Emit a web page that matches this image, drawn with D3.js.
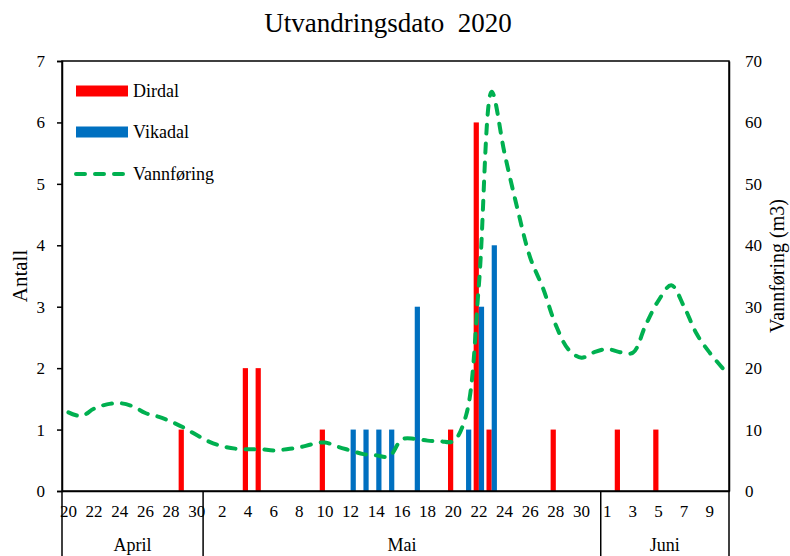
<!DOCTYPE html>
<html>
<head>
<meta charset="utf-8">
<script src="https://cdn.jsdelivr.net/npm/d3@7"></script>
<style>
  body { margin: 0; background: #fff; }
  svg { display: block; font-family: "Liberation Serif", "Times New Roman", serif; }
</style>
</head>
<body>
<svg id="chart" width="790" height="556"></svg>
<script>
// ---------- DATA ----------
const months = [
  { name: "April", days: [20,21,22,23,24,25,26,27,28,29,30] },
  { name: "Mai",   days: d3.range(1, 32) },
  { name: "Juni",  days: [1,2,3,4,5,6,7,8,9,10] }
];
// categories: one per day, Apr 20 .. Jun 10
const categories = months.flatMap(m => m.days.map(d => m.name + "-" + d));
const dayLabels  = months.flatMap(m => m.days);

// Antall (left axis)
const dirdal = [
  0,0,0,0,0,0,0,0,0,1,0,            // Apr 20-30
  0,0,0,2,2,0,0,0,0,1,0,0,0,0,0,0,0,0,0,1,0,6,1,0,0,0,0,1,0,0,0, // Mai 1-31
  0,1,0,0,1,0,0,0,0,0               // Jun 1-10
];
const vikadal = [
  0,0,0,0,0,0,0,0,0,0,0,
  0,0,0,0,0,0,0,0,0,0,0,1,1,1,1,0,3,0,0,0,1,3,4,0,0,0,0,0,0,0,0,
  0,0,0,0,0,0,0,0,0,0
];
// Vannføring (m3) (right axis)
const vannforing = [
  12.8,12.2,13.4,14.1,14.3,13.8,12.7,12.1,11.3,10.3,9.1,
  8.0,7.3,6.9,6.8,6.8,6.6,6.8,7.1,7.6,7.9,7.2,6.6,6.0,5.8,5.6,8.4,8.5,8.2,8.1,8.1,12.3,33.5,65,55,46,38,33,27,23,21.7,22.6,
  23.1,22.6,22.5,27,31,33.5,30,25.5,22.5,20
];
const leftTicks  = [0,1,2,3,4,5,6,7];
const rightTicks = [0,10,20,30,40,50,60,70];
const seriesNames = ["Dirdal", "Vikadal", "Vannføring"];
const colors = { Dirdal: "#FF0000", Vikadal: "#0070C0", "Vannføring": "#00B050" };

// ---------- LAYOUT ----------
const svg = d3.select("#chart");
const L = 62, R = 729, T = 61, B = 491, H = 556;

const x = d3.scaleBand().domain(categories).range([L, R]).paddingInner(0).paddingOuter(0);
const bw = x.bandwidth();
const x1 = d3.scaleBand().domain(["Dirdal", "Vikadal"]).range([1.2, bw - 1.2]).padding(0);
const yL = d3.scaleLinear().domain([0, 7]).range([B, T]);
const yR = d3.scaleLinear().domain([0, 70]).range([B, T]);

// title
svg.append("text").attr("x", 388).attr("y", 32).attr("text-anchor", "middle")
  .attr("font-size", 27).attr("fill", "#000").style("white-space", "pre")
  .text("Utvandringsdato  2020");

// bars
const barData = [];
categories.forEach((c, i) => {
  if (dirdal[i] > 0) barData.push({ c, s: "Dirdal", v: dirdal[i] });
  if (vikadal[i] > 0) barData.push({ c, s: "Vikadal", v: vikadal[i] });
});
svg.append("g").selectAll("rect").data(barData).join("rect")
  .attr("x", d => x(d.c) + x1(d.s))
  .attr("width", x1.bandwidth())
  .attr("y", d => yL(d.v))
  .attr("height", d => yL(0) - yL(d.v))
  .attr("fill", d => colors[d.s]);

// flow line
const line = d3.line()
  .x((d, i) => x(categories[i]) + bw / 2)
  .y(d => yR(d))
  .curve(d3.curveCatmullRom.alpha(0.5));
svg.append("path").datum(vannforing)
  .attr("d", line)
  .attr("fill", "none")
  .attr("stroke", colors["Vannføring"])
  .attr("stroke-width", 4)
  .attr("stroke-dasharray", "9,10")
  .attr("stroke-linecap", "round");

// plot frame
svg.append("rect").attr("x", L).attr("y", T).attr("width", R - L).attr("height", B - T)
  .attr("fill", "none").attr("stroke", "#000").attr("stroke-width", 1.5);

// left axis
const gL = svg.append("g").attr("transform", `translate(${L},0)`)
  .call(d3.axisLeft(yL).tickValues(leftTicks).tickSize(5).tickPadding(12).tickFormat(d3.format("d")));
gL.select(".domain").attr("stroke", "#000").attr("stroke-width", 1.5);
gL.selectAll(".tick line").attr("stroke", "#000").attr("stroke-width", 1.5);
gL.selectAll("text").attr("font-size", 17).attr("font-family", "Liberation Serif").attr("fill", "#000");

// right axis
const gR = svg.append("g").attr("transform", `translate(${R},0)`)
  .call(d3.axisRight(yR).tickValues(rightTicks).tickSize(0).tickPadding(16));
gR.select(".domain").attr("stroke", "#000").attr("stroke-width", 1.5);
gR.selectAll("text").attr("font-size", 17).attr("font-family", "Liberation Serif").attr("fill", "#000");

// bottom axis: day labels
const gB = svg.append("g").attr("transform", `translate(0,${B})`)
  .call(d3.axisBottom(x).tickSize(0).tickPadding(14)
    .tickValues(categories.filter((c, i) => i % 2 === 0))
    .tickFormat(c => dayLabels[categories.indexOf(c)]));
gB.select(".domain").attr("stroke", "#000").attr("stroke-width", 1.5);
gB.selectAll("text").attr("font-size", 17).attr("font-family", "Liberation Serif").attr("fill", "#000");

// month separators and labels
let idx = 0;
const bounds = [];
months.forEach(m => {
  const start = x(categories[idx]);
  const end = x(categories[idx + m.days.length - 1]) + bw;
  bounds.push({ name: m.name, start, end });
  idx += m.days.length;
});
const sepX = [bounds[0].start, ...bounds.map(b => b.end)];
svg.append("g").selectAll("line").data(sepX).join("line")
  .attr("x1", d => d).attr("x2", d => d)
  .attr("y1", B).attr("y2", H)
  .attr("stroke", "#000").attr("stroke-width", 1.5);
svg.append("g").selectAll("text").data(bounds).join("text")
  .attr("x", d => (d.start + d.end) / 2).attr("y", 551)
  .attr("text-anchor", "middle").attr("font-size", 18).attr("fill", "#000")
  .text(d => d.name);

// axis titles
svg.append("text").attr("transform", "translate(27,276) rotate(-90)")
  .attr("text-anchor", "middle").attr("font-size", 21).attr("fill", "#000").text("Antall");
svg.append("text").attr("transform", "translate(784,266) rotate(-90)")
  .attr("text-anchor", "middle").attr("font-size", 20).attr("fill", "#000").text("Vannføring (m3)");

// legend
const lg = svg.append("g");
const legY = [91, 132, 174];
seriesNames.forEach((s, i) => {
  if (i < 2) {
    lg.append("rect").attr("x", 76).attr("y", legY[i] - 5.5).attr("width", 52).attr("height", 11)
      .attr("fill", colors[s]);
  } else {
    lg.append("line").attr("x1", 76).attr("x2", 126).attr("y1", legY[i]).attr("y2", legY[i])
      .attr("stroke", colors[s]).attr("stroke-width", 4)
      .attr("stroke-dasharray", "9,10").attr("stroke-linecap", "round");
  }
  lg.append("text").attr("x", 133).attr("y", legY[i] + 6)
    .attr("font-size", 18).attr("fill", "#000").text(s);
});
</script>
</body>
</html>
